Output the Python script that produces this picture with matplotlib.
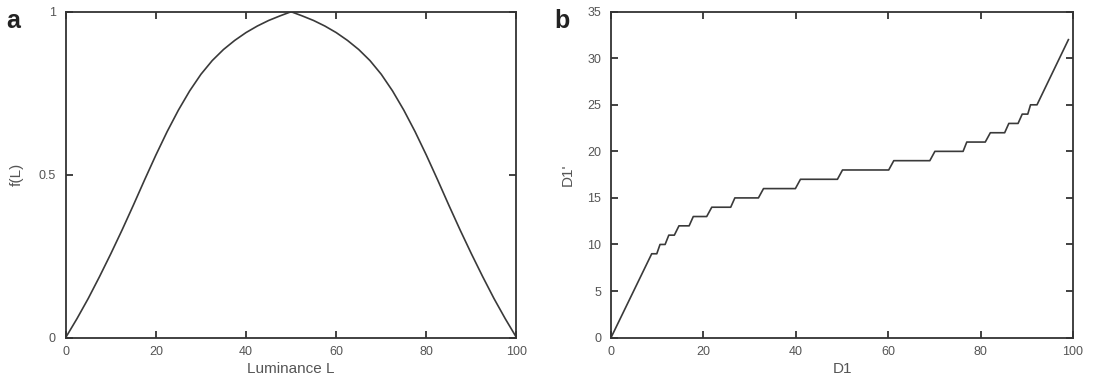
import matplotlib
matplotlib.use("Agg")
import matplotlib.pyplot as plt

plt.rcParams['font.family'] = ['Liberation Sans', 'DejaVu Sans']

# Panel a: f(L) vs luminance L
lum = [0, 2.5, 5, 7.5, 10, 12.5, 15, 17.5, 20, 22.5, 25, 27.5, 30, 32.5, 35,
       37.5, 40, 42.5, 45, 47.5, 50, 52.5, 55, 57.5, 60, 62.5, 65, 67.5, 70,
       72.5, 75, 77.5, 80, 82.5, 85, 87.5, 90, 92.5, 95, 97.5, 100]
f_vals = [0, 0.058, 0.12, 0.187, 0.257, 0.33, 0.406, 0.484, 0.560, 0.632,
          0.698, 0.757, 0.808, 0.850, 0.884, 0.912, 0.936, 0.956, 0.973,
          0.987, 1.0,
          0.987, 0.973, 0.956, 0.936, 0.912, 0.884, 0.850, 0.808, 0.757,
          0.698, 0.632, 0.560, 0.484, 0.406, 0.33, 0.257, 0.187, 0.12,
          0.058, 0]

# Panel b: D1' vs D1
d1 = [0, 8.8, 9.9, 10.6, 11.7, 12.5, 13.7, 14.7, 16.9, 17.8, 20.7, 21.8, 25.9,
      26.8, 31.9, 33.0, 39.9, 41.0, 49.0, 50.1, 60.1, 61.2, 69.0, 70.1, 76.2,
      77.0, 81.0, 82.1, 85.2, 86.1, 88.1, 89.0, 90.2, 90.8, 92.2, 99.0]
d1p = [0, 9, 9, 10, 10, 11, 11, 12, 12, 13, 13, 14, 14, 15, 15, 16, 16, 17,
       17, 18, 18, 19, 19, 20, 20, 21, 21, 22, 22, 23, 23, 24, 24, 25, 25, 32]

xticks = [0, 20, 40, 60, 80, 100]
a_yticks = [0, 0.5, 1]
a_yticklabels = ['0', '0.5', '1']
b_yticks = [0, 5, 10, 15, 20, 25, 30, 35]

line_col = '#3a3a3a'
spine_col = '#333333'
text_col = '#555555'

fig = plt.figure(figsize=(11.1, 3.78), dpi=100)
ax1 = fig.add_axes([0.0592, 0.107, 0.4061, 0.862])
ax2 = fig.add_axes([0.5505, 0.107, 0.4162, 0.862])

def style(ax):
    for s in ax.spines.values():
        s.set_color(spine_col)
        s.set_linewidth(1.3)
    ax.tick_params(direction='in', length=5, width=1.3, color=spine_col,
                   top=True, right=True, labelsize=9, labelcolor=text_col)
    ax.tick_params(axis='x', pad=6)
    ax.tick_params(axis='y', pad=7)

ax1.plot(lum, f_vals, color=line_col, lw=1.2)
ax1.set_xlim(0, 100)
ax1.set_ylim(0, 1)
ax1.set_xticks(xticks)
ax1.set_yticks(a_yticks)
ax1.set_yticklabels(a_yticklabels)
style(ax1)
ax1.set_xlabel('Luminance L', fontsize=11, color=text_col, labelpad=3)
ax1.set_ylabel('f(L)', fontsize=11, color=text_col, labelpad=11)

ax2.plot(d1, d1p, color=line_col, lw=1.2)
ax2.set_xlim(0, 100)
ax2.set_ylim(0, 35)
ax2.set_xticks(xticks)
ax2.set_yticks(b_yticks)
style(ax2)
ax2.set_xlabel('D1', fontsize=11, color=text_col, labelpad=3)
ax2.set_ylabel("D1'", fontsize=11, color=text_col, labelpad=9)

fig.text(0.006, 0.975, 'a', fontsize=18, fontweight='bold', va='top', ha='left', color='#222222')
fig.text(0.499, 0.975, 'b', fontsize=18, fontweight='bold', va='top', ha='left', color='#222222')

fig.savefig('out.png', dpi=100)
